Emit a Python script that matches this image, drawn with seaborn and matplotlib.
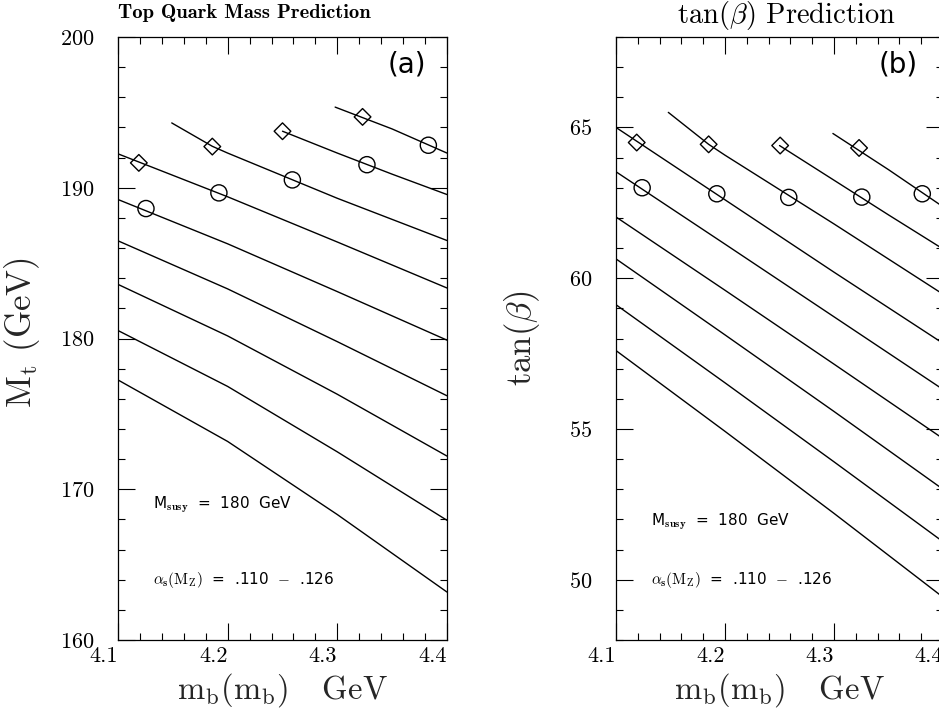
import numpy as np
import pandas as pd
import matplotlib
matplotlib.use("Agg")
import matplotlib.pyplot as plt
import seaborn as sns
from matplotlib.ticker import MultipleLocator

# ---------------- data : panel (a) top quark mass ----------------
mb_grid = [4.10, 4.20, 4.30, 4.40]

a1_x = [4.298, 4.35, 4.40]
a1_y = [195.35, 193.9, 192.3]
a2_x = [4.25, 4.30, 4.35, 4.40]
a2_y = [193.75, 192.3, 190.9, 189.55]
a3_x = [4.149, 4.186, 4.20, 4.30, 4.40]
a3_y = [194.3, 192.75, 192.3, 189.3, 186.5]
a4_y = [192.25, 189.4, 186.4, 183.35]
a5_y = [189.22, 186.28, 183.11, 179.89]
a6_y = [186.48, 183.29, 179.79, 176.2]
a7_y = [183.59, 180.17, 176.30, 172.2]
a8_y = [180.53, 176.82, 172.48, 167.94]
a9_y = [177.25, 173.17, 168.32, 163.18]

a_diam_x = [4.119, 4.186, 4.250, 4.323]
a_diam_y = [191.65, 192.73, 193.75, 194.7]
a_circ_x = [4.1255, 4.192, 4.259, 4.327, 4.383]
a_circ_y = [188.62, 189.66, 190.52, 191.53, 192.82]

# ---------------- data : panel (b) tan(beta) ----------------
b1_x = [4.299, 4.35, 4.40]
b1_y = [64.8, 63.6, 62.37]
b2_x = [4.25, 4.30, 4.35, 4.40]
b2_y = [64.4, 63.25, 62.1, 60.97]
b3_x = [4.148, 4.185, 4.20, 4.30, 4.40]
b3_y = [65.5, 64.44, 64.08, 61.8, 59.47]
b4_y = [65.0, 62.6, 60.2, 57.84]
b5_y = [63.53, 61.13, 58.72, 56.31]
b6_y = [62.03, 59.6, 57.15, 54.68]
b7_y = [60.64, 58.12, 55.58, 53.0]
b8_y = [59.12, 56.53, 53.91, 51.26]
b9_y = [57.6, 54.92, 52.2, 49.42]

b_diam_x = [4.119, 4.185, 4.2506, 4.323]
b_diam_y = [64.5, 64.44, 64.4, 64.32]
b_circ_x = [4.124, 4.1925, 4.2585, 4.3255, 4.381]
b_circ_y = [63.0, 62.8, 62.68, 62.69, 62.8]

# ---------------- text ----------------
title_a = "Top Quark Mass Prediction"
title_b = r"tan$(\beta)$ Prediction"
xlabel = r"$\mathrm{m_b(m_b)}$   GeV"
ylabel_a = r"$\mathrm{M_t}$ (GeV)"
ylabel_b = r"tan$(\beta)$"
note1 = r"M$_{\mathbf{susy}}$  =  180  GeV"
note2 = r"$\alpha_{\mathbf{s}}(\mathrm{M_Z})$  =  .110  $-$  .126"

sns.set_theme(style="white")
plt.rcParams.update({
    "font.family": ["cmr10", "DejaVu Serif"],
    "mathtext.fontset": "cm",
    "axes.formatter.use_mathtext": True,
    "axes.edgecolor": "black",
    "axes.linewidth": 0.9,
    "xtick.color": "black",
    "ytick.color": "black",
})

fig = plt.figure(figsize=(9.39, 7.10), dpi=100)
W, H = 939.0, 710.0
axa = fig.add_axes([118 / W, 70 / H, 329 / W, 603 / H])
axb = fig.add_axes([616 / W, 70 / H, 327 / W, 603 / H])


def long_df(xs_list, ys_list):
    frames = []
    for i, (xs, ys) in enumerate(zip(xs_list, ys_list)):
        frames.append(pd.DataFrame({"mb": xs, "val": ys, "curve": i}))
    return pd.concat(frames, ignore_index=True)


df_a = long_df([a1_x, a2_x, a3_x] + [mb_grid] * 6,
               [a1_y, a2_y, a3_y, a4_y, a5_y, a6_y, a7_y, a8_y, a9_y])
df_b = long_df([b1_x, b2_x, b3_x] + [mb_grid] * 6,
               [b1_y, b2_y, b3_y, b4_y, b5_y, b6_y, b7_y, b8_y, b9_y])

for ax, df, dx, dy, cx, cy in [
    (axa, df_a, a_diam_x, a_diam_y, a_circ_x, a_circ_y),
    (axb, df_b, b_diam_x, b_diam_y, b_circ_x, b_circ_y),
]:
    sns.lineplot(data=df, x="mb", y="val", units="curve", estimator=None,
                 sort=False, color="black", lw=1.0, ax=ax, legend=False)
    sns.scatterplot(x=dx, y=dy, marker="D", s=72, facecolors="none",
                    edgecolors="black", linewidth=1.0, ax=ax, zorder=3)
    sns.scatterplot(x=cx, y=cy, marker="o", s=135, facecolors="none",
                    edgecolors="black", linewidth=1.0, ax=ax, zorder=3)
    ax.set_xlim(4.1, 4.4)
    ax.xaxis.set_major_locator(MultipleLocator(0.1))
    ax.xaxis.set_minor_locator(MultipleLocator(0.02))
    ax.tick_params(which="both", direction="in", top=True, right=True,
                   bottom=True, left=True, width=0.8, colors="black")
    ax.tick_params(which="major", length=12, labelsize=16)
    ax.tick_params(which="minor", length=5)
    ax.tick_params(axis="y", which="major", pad=17)
    ax.tick_params(axis="x", which="major", pad=5)
    ax.set_xticks([4.1, 4.2, 4.3, 4.4])
    ax.set_xticklabels(["4.1", "4.2", "4.3", "4.4"], ha="right")
    ax.set_xlabel(xlabel, fontsize=23.5)
    ax.xaxis.set_label_coords(0.5, -0.052)
    for s in ax.spines.values():
        s.set_visible(True)
        s.set_color("black")

axa.set_ylim(160, 200)
axa.yaxis.set_major_locator(MultipleLocator(10))
axa.yaxis.set_minor_locator(MultipleLocator(2))
axa.set_ylabel(ylabel_a, fontsize=25)
axa.yaxis.set_label_coords(-0.231, 0.51)

axb.set_ylim(48, 68)
axb.yaxis.set_major_locator(MultipleLocator(5))
axb.yaxis.set_minor_locator(MultipleLocator(1))
axb.set_ylabel(ylabel_b, fontsize=25)
axb.yaxis.set_label_coords(-0.226, 0.5)

for ax, lab, lx, y1 in [(axa, "(a)", 0.878, 0.224), (axb, "(b)", 0.862, 0.196)]:
    ax.text(lx, 0.9536, lab, transform=ax.transAxes, ha="center", va="center",
            fontsize=20, family="DejaVu Sans", color="black")
    ax.text(0.107, y1, note1, transform=ax.transAxes, ha="left", va="center",
            fontsize=11, family="DejaVu Sans", color="black")
    ax.text(0.107, 0.099, note2, transform=ax.transAxes, ha="left", va="center",
            fontsize=11, family="DejaVu Sans", color="black")

fig.text(118 / W, 1 - 13 / H, title_a, ha="left", va="center",
         fontsize=14.8, family=["cmb10", "DejaVu Serif"], color="black")
fig.text(786 / W, 1 - 15 / H, title_b, ha="center", va="center",
         fontsize=20.5, color="black")

fig.savefig("out.png", dpi=100)
